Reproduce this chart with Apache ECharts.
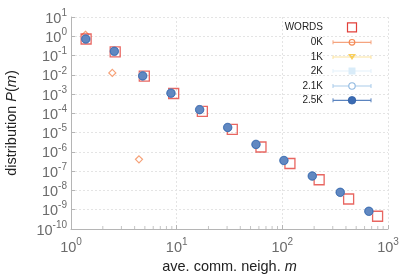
<!DOCTYPE html>
<html><head><meta charset="utf-8">
<script src="https://cdn.jsdelivr.net/npm/echarts@6/dist/echarts.min.js"></script>
<style>html,body{margin:0;padding:0;background:#fff}#c{width:415px;height:277px}</style>
</head><body><div id="c"></div>
<script>
var legendNames = ['WORDS','0K','1K','2K','2.1K','2.5K'];
var wordsX = [1.39, 2.62, 4.94, 9.37, 17.5, 33.6, 62.8, 118, 223, 424, 797];
var wordsY = [0.72, 0.154, 0.0085, 1.07e-3, 1.26e-4, 1.47e-5, 1.8e-6, 2.5e-7, 3.6e-8, 3.6e-9, 4.6e-10];
var k0X = [1.37, 2.46, 4.4];
var k0Y = [1.2, 0.0126, 4.1e-7];
var k1X = [1.38, 2.58, 4.8, 8.9, 16.7, 30.8, 57, 105, 195, 358, 668];
var k1Y = [0.70, 0.16, 0.0083, 1.05e-3, 1.35e-4, 1.55e-5, 2.0e-6, 2.9e-7, 4.5e-8, 6.6e-9, 7e-10];
var k2X = [1.38, 2.57, 4.77, 8.83, 16.5, 30.4, 56.3, 103.5, 192, 353, 659];
var k2Y = [0.72, 0.167, 0.0088, 1.12e-3, 1.56e-4, 1.86e-5, 2.45e-6, 3.6e-7, 5.6e-8, 8e-9, 8.3e-10];
var k21X = [1.38, 2.57, 4.77, 8.83, 16.5, 30.4, 56.3, 103.5, 192, 353, 659];
var k21Y = [0.72, 0.167, 0.0088, 1.12e-3, 1.56e-4, 1.86e-5, 2.45e-6, 3.6e-7, 5.6e-8, 8e-9, 8.3e-10];
var k25X = [1.38, 2.57, 4.77, 8.83, 16.5, 30.4, 56.3, 103.5, 192, 353, 659];
var k25Y = [0.72, 0.167, 0.0088, 1.12e-3, 1.56e-4, 1.86e-5, 2.45e-6, 3.6e-7, 5.6e-8, 8e-9, 8.3e-10];
var minorX = [2,3,4,5,6,7,8,9,20,30,40,50,60,70,80,90,200,300,400,500,600,700,800,900];

function pairs(xs, ys){ return xs.map(function(x,i){ return [x, ys[i]]; }); }
var FONT = 'Liberation Sans, Arial, sans-serif';
function pow10(v){
  var e = Math.round(Math.log(v)/Math.LN10);
  return '{b|10}{s|' + e + '}';
}
var richLab = {
  b: {fontSize: 14.5, color: '#6b6b6b', fontFamily: FONT, verticalAlign: 'bottom'},
  s: {fontSize: 10, color: '#6b6b6b', fontFamily: FONT, verticalAlign: 'bottom', padding: [0,0,8,0]}
};
var gridLine = {show: true, lineStyle: {color: '#e4e4e4', type: [2,2], width: 1}};
var axisLine = {show: true, lineStyle: {color: '#b5b5b5', width: 1}};
var titleRich = {n: {fontSize: 14.5, color: '#222', fontFamily: FONT}, i: {fontSize: 14.5, color: '#222', fontFamily: FONT, fontStyle: 'italic'}};

var chart = echarts.init(document.getElementById('c'), null, {renderer: 'canvas'});

var lg = [];
var ly = [27.3, 42.3, 57, 71, 86, 100.3];
var lineCols = ['', '#f5a47f', '#fbe3a0', '#e3f1fb', '#a9cbea', '#5b84bf'];
for (var i = 0; i < legendNames.length; i++) {
  lg.push({type:'text', x: 323, y: ly[i], style:{text: legendNames[i], font: '10px ' + FONT, fill:'#222', align:'right', verticalAlign:'middle'}});
  if (i > 0) {
    lg.push({type:'line', shape:{x1:333, y1:ly[i], x2:371, y2:ly[i]}, style:{stroke: lineCols[i], lineWidth: 1.2}});
    lg.push({type:'line', shape:{x1:333, y1:ly[i]-2, x2:333, y2:ly[i]+2}, style:{stroke: lineCols[i], lineWidth: 1}});
    lg.push({type:'line', shape:{x1:371, y1:ly[i]-2, x2:371, y2:ly[i]+2}, style:{stroke: lineCols[i], lineWidth: 1}});
  }
}
lg.push({type:'rect', shape:{x:347.5, y:ly[0]-4.5, width:9, height:9}, style:{fill:'none', stroke:'#e2403a', lineWidth:1.2}});
lg.push({type:'circle', shape:{cx:352, cy:ly[1], r:2.8}, style:{fill:'none', stroke:'#f48a55', lineWidth:1.2}});
lg.push({type:'polygon', shape:{points:[[348,ly[2]-3],[356,ly[2]-3],[352,ly[2]+3]]}, style:{fill:'#f9cf5c'}});
lg.push({type:'rect', shape:{x:348.5, y:ly[3]-3.5, width:7, height:7}, style:{fill:'#d9ecf9'}});
lg.push({type:'circle', shape:{cx:352, cy:ly[4], r:3.2}, style:{fill:'#fff', stroke:'#8fb8e0', lineWidth:1.1}});
lg.push({type:'circle', shape:{cx:352, cy:ly[5], r:3.8}, style:{fill:'#3b6bb3', stroke:'#2f5ea5', lineWidth:0.8}});

chart.setOption({
  animation: false,
  backgroundColor: '#fff',
  grid: {left: 71, right: 27, top: 17, bottom: 48, containLabel: false, outerBoundsMode: 'none'},
  xAxis: {
    type: 'log', logBase: 10, min: 1, max: 1000, interval: 1,
    name: '{n|ave. comm. neigh. }{i|m}', nameLocation: 'middle', nameGap: 30,
    nameTextStyle: {rich: titleRich},
    axisLine: axisLine,
    axisTick: {show: true, inside: true, length: 4, lineStyle: {color: '#b5b5b5'}},
    axisLabel: {formatter: pow10, rich: richLab, margin: 8},
    splitLine: gridLine
  },
  yAxis: {
    type: 'log', logBase: 10, min: 1e-10, max: 10, interval: 1,
    name: '{n|distribution }{i|P}{n|(}{i|m}{n|)}', nameLocation: 'middle', nameGap: 52,
    nameTextStyle: {rich: titleRich},
    axisLine: axisLine,
    axisTick: {show: true, inside: true, length: 4, lineStyle: {color: '#b5b5b5'}},
    axisLabel: {formatter: pow10, rich: richLab, margin: 4, showMinLabel: true, showMaxLabel: true},
    splitLine: gridLine
  },
  graphic: lg,
  series: [
    {name: 'minor', type: 'scatter', silent: true, clip: false,
     data: minorX.map(function(x){ return [x, 1e-10]; }), symbol: 'rect', symbolSize: [1, 3], symbolOffset: [0, -1.5],
     itemStyle: {color: '#b5b5b5'}, z: 1},
    {name: 'WORDS', type: 'scatter', data: pairs(wordsX, wordsY), symbol: 'rect', symbolSize: 10,
     itemStyle: {color: 'rgba(255,255,255,0)', borderColor: '#e2403a', borderWidth: 1.3}, z: 2},
    {name: '0K', type: 'scatter', data: pairs(k0X, k0Y), symbol: 'diamond', symbolSize: 7,
     itemStyle: {color: '#fff', borderColor: '#f48a55', borderWidth: 1.2}, z: 1},
    {name: '1K', type: 'scatter', data: pairs(k1X, k1Y), symbol: 'triangle', symbolRotate: 180, symbolSize: 7,
     itemStyle: {color: '#f9cf5c'}, z: 3},
    {name: '2K', type: 'scatter', data: pairs(k2X, k2Y), symbol: 'rect', symbolSize: 7,
     itemStyle: {color: '#d9ecf9'}, z: 3},
    {name: '2.1K', type: 'scatter', data: pairs(k21X, k21Y), symbol: 'circle', symbolSize: 8,
     itemStyle: {color: '#fff', borderColor: '#8fb8e0', borderWidth: 1.1}, z: 3},
    {name: '2.5K', type: 'scatter', data: pairs(k25X, k25Y), symbol: 'circle', symbolSize: 8.5,
     itemStyle: {color: '#3b6bb3', borderColor: '#2f5ea5', borderWidth: 0.8}, z: 4}
  ]
});
</script>
</body></html>
